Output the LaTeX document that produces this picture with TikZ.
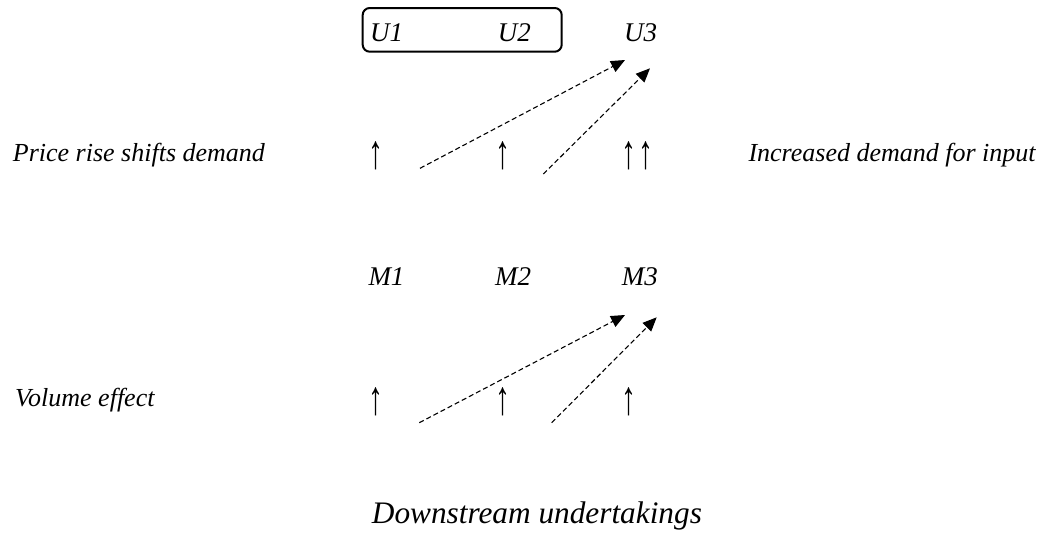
\documentclass[tikz,border=0pt]{standalone}
\usepackage{fontspec}
\usepackage{graphicx}
\setmainfont{Liberation Serif}
\usetikzlibrary{arrows.meta}
\newcommand{\tallup}{\scalebox{1}[1.6]{↑}}
\tikzset{
  lbl/.style={inner sep=0pt, anchor=base west, font=\fontsize{26}{30}\selectfont\itshape},
  var/.style={inner sep=0pt, anchor=base west, font=\fontsize{27}{32}\selectfont\itshape},
  up/.style={inner sep=0pt, anchor=base, font=\fontsize{30}{34}\selectfont},
  ttl/.style={inner sep=0pt, anchor=base west, font=\fontsize{31.3}{36}\selectfont\itshape},
  grp/.style={draw, line width=2pt, rounded corners=7pt},
  eff/.style={draw, dashed, dash pattern=on 5pt off 3pt, line width=1.1pt, -{Triangle[length=14pt,width=12pt]}}
}
\begin{document}
\begin{tikzpicture}[x=1pt,y=-1pt]
\useasboundingbox (0,0) rectangle (1051,539);
% upstream row
\node[var] (U1) at (370,41) {U1};
\node[var] (U2) at (497.7,41) {U2};
\node[var] (U3) at (624,41) {U3};
\draw[grp] (362.7,8) rectangle (561.7,51.7);
\node[lbl] (price) at (12.7,161.7) {Price rise shifts demand};
\node[lbl] (incr) at (748.3,161.7) {Increased demand for input};
\node[up] (u1) at (376,168.3) {\tallup};
\node[up] (u2) at (502.7,168.3) {\tallup};
\node[up] (u3) at (637.5,168.3) {\tallup\kern2pt\tallup};
\coordinate (s1) at (420,168.3);
\coordinate (t1) at (625,60);
\coordinate (s2) at (543.3,174);
\coordinate (t2) at (650,68.3);
\draw[eff] (s1) -- (t1);
\draw[eff] (s2) -- (t2);
% downstream row
\node[var] (M1) at (368.3,285) {M1};
\node[var] (M2) at (495,285) {M2};
\node[var] (M3) at (621.7,285) {M3};
\node[lbl] (vol) at (15,406) {Volume effect};
\node[up] (m1) at (376,414) {\tallup};
\node[up] (m2) at (502.7,414) {\tallup};
\node[up] (m3) at (629,414) {\tallup};
\coordinate (s3) at (419.3,422.7);
\coordinate (t3) at (625,315);
\coordinate (s4) at (551.7,422.7);
\coordinate (t4) at (656.7,317.3);
\draw[eff] (s3) -- (t3);
\draw[eff] (s4) -- (t4);
\node[ttl] (down) at (371.7,523) {Downstream undertakings};
\end{tikzpicture}
\end{document}
